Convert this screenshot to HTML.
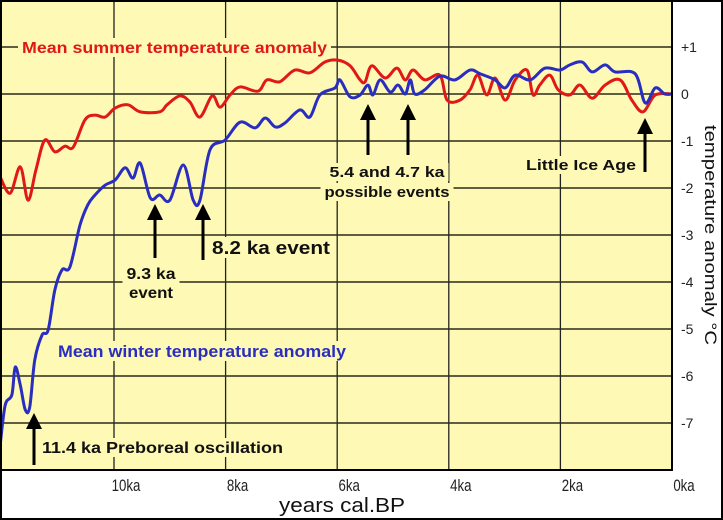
<!DOCTYPE html>
<html><head><meta charset="utf-8"><style>
html,body{margin:0;padding:0;background:#fff}
svg{display:block}
text{font-family:"Liberation Sans",Arial,sans-serif}
</style></head><body>
<svg id="chart" width="723" height="520" viewBox="0 0 723 520">
<rect x="0" y="0" width="723" height="520" fill="#fff"/>
<rect x="1" y="1" width="671" height="469" fill="#FEF9B4"/>
<g id="grid"></g>
<g id="labelsbg"></g>
<g id="series"></g>
<g id="annot"></g>
<g id="axes"></g>
<rect x="1" y="1" width="721" height="518" fill="none" stroke="#000" stroke-width="2"/>
</svg>
<script>
const xTicks = [10, 8, 6, 4, 2, 0];
const xTickLabels = ["10ka", "8ka", "6ka", "4ka", "2ka", "0ka"];
const yTicks = [1, 0, -1, -2, -3, -4, -5, -6, -7];
const yTickLabels = ["+1", "0", "-1", "-2", "-3", "-4", "-5", "-6", "-7"];
const summerAge = [12.04,11.86,11.68,11.54,11.40,11.24,11.06,10.88,10.73,10.52,10.34,10.16,9.98,9.75,9.53,9.18,9.05,8.82,8.64,8.46,8.24,8.10,7.92,7.74,7.42,7.26,7.03,6.76,6.49,6.22,5.99,5.77,5.59,5.50,5.38,5.14,4.93,4.78,4.64,4.43,4.16,4.03,3.80,3.62,3.48,3.32,3.17,2.99,2.81,2.60,2.49,2.37,2.19,2.04,1.83,1.65,1.43,1.20,0.93,0.72,0.52,0.30,0];
const summerT = [-1.77,-2.11,-1.55,-2.26,-1.62,-0.98,-1.23,-1.11,-1.13,-0.55,-0.45,-0.49,-0.30,-0.23,-0.38,-0.38,-0.23,-0.04,-0.17,-0.49,-0.04,-0.28,-0.02,0.15,0.06,0.30,0.26,0.51,0.45,0.68,0.72,0.60,0.30,0.26,0.60,0.34,0.55,0.30,0.51,0.30,0.40,-0.13,-0.13,0.09,0.40,-0.02,0.34,-0.13,0.30,0.51,-0.02,0.19,0.40,0.09,-0.02,0.19,-0.09,0.19,0.30,-0.13,-0.38,-0.02,0];
const winterAge = [12.04,11.95,11.83,11.77,11.68,11.59,11.51,11.42,11.29,11.18,11.06,10.93,10.79,10.61,10.47,10.34,10.16,9.98,9.80,9.66,9.53,9.35,9.18,9.00,8.76,8.58,8.46,8.28,8.01,7.74,7.47,7.29,7.11,6.94,6.67,6.49,6.31,6.04,5.95,5.77,5.59,5.45,5.36,5.23,5.05,4.91,4.78,4.69,4.61,4.43,4.16,3.89,3.62,3.44,3.17,2.99,2.81,2.54,2.28,2.01,1.83,1.61,1.43,1.20,1.02,0.66,0.48,0.30,0.13,0];
const winterT = [-7.47,-6.62,-6.40,-5.81,-6.19,-6.72,-6.66,-5.66,-5.13,-5.02,-4.17,-3.74,-3.68,-2.79,-2.36,-2.15,-1.94,-1.83,-1.57,-1.79,-1.47,-2.21,-2.15,-2.26,-1.51,-2.26,-2.26,-1.19,-0.98,-0.60,-0.72,-0.51,-0.70,-0.62,-0.34,-0.49,-0.02,0.13,0.30,-0.06,-0.02,0.19,-0.02,0.30,0.04,0.19,0,0.30,0,0.09,0.38,0.30,0.51,0.43,0.30,0.13,0.40,0.30,0.55,0.51,0.62,0.68,0.47,0.62,0.47,0.43,-0.19,0.13,0,0];

const NS = "http://www.w3.org/2000/svg";
const X = ka => 672 - 55.8 * ka;
const Y = t => 94 - 47 * t;
function mk(tag, attrs, parent, txt){
  const e = document.createElementNS(NS, tag);
  for (const k in attrs) e.setAttribute(k, attrs[k]);
  if (txt !== undefined) e.textContent = txt;
  parent.appendChild(e);
  return e;
}
const grid = document.getElementById('grid');
const axes = document.getElementById('axes');
const series = document.getElementById('series');
const annot = document.getElementById('annot');
const lbg = document.getElementById('labelsbg');

xTicks.forEach((v, i) => {
  if (v === 0) return;
  const l = mk('line', {x1:X(v), x2:X(v), y1:1, y2:470, stroke:'#222', 'stroke-width':1.3}, grid);
  
  
});
yTicks.forEach((v, i) => {
  const l = mk('line', {x1:1, x2:672, y1:Y(v), y2:Y(v), stroke:'#2a2a1a', 'stroke-width':1.6}, grid);
  
  
  const t = mk('text', {x:681, y:Y(v)+5, 'font-size':14, fill:'#222'}, axes, yTickLabels[i]);
  
  
});
xTicks.forEach((v, i) => {
  const cx = X(v) + 12;
  const t = mk('text', {x:cx, y:491, 'font-size':17, fill:'#222', 'text-anchor':'middle', transform:`translate(${cx} 0) scale(0.78 1) translate(${-cx} 0)`}, axes, xTickLabels[i]);
  
  
});
mk('line', {x1:672, x2:672, y1:1, y2:471, stroke:'#000', 'stroke-width':2}, axes);
mk('line', {x1:1, x2:672, y1:470, y2:470, stroke:'#000', 'stroke-width':2}, axes);
let t = mk('text', {x:342, y:512, 'font-size':20, fill:'#111', 'text-anchor':'middle', textLength:126, lengthAdjust:'spacingAndGlyphs'}, axes, 'years  cal.BP');


t = mk('text', {x:0, y:0, 'font-size':17, fill:'#111', 'text-anchor':'middle', transform:'translate(705 235) rotate(90)', textLength:220, lengthAdjust:'spacingAndGlyphs'}, axes, 'temperature anomaly °C');



function smoothPath(xs, ys){
  const p = xs.map((a,i)=>[X(a), Y(ys[i])]);
  let d = `M${p[0][0]},${p[0][1]}`;
  for (let i=0;i<p.length-1;i++){
    const p0=p[Math.max(0,i-1)], p1=p[i], p2=p[i+1], p3=p[Math.min(p.length-1,i+2)];
    const c1=[p1[0]+(p2[0]-p0[0])/6, p1[1]+(p2[1]-p0[1])/6];
    const c2=[p2[0]-(p3[0]-p1[0])/6, p2[1]-(p3[1]-p1[1])/6];
    d += ` C${c1[0]},${c1[1]} ${c2[0]},${c2[1]} ${p2[0]},${p2[1]}`;
  }
  return d;
}
let s = mk('path', {d:smoothPath(summerAge, summerT), fill:'none', stroke:'#E01818', 'stroke-width':3, 'stroke-linejoin':'round'}, series);


s = mk('path', {d:smoothPath(winterAge, winterT), fill:'none', stroke:'#2A2EC0', 'stroke-width':3, 'stroke-linejoin':'round'}, series);



function label(x, y, w, txt, size, color, name, anchor){
  const x0 = anchor === 'end' ? x - w : (anchor === 'middle' ? x - w/2 : x);
  mk('rect', {x:x0-4, y:y-size+1, width:w+8, height:size+3, fill:'#FEF9B4'}, lbg);
  const e = mk('text', {x:x, y:y, 'font-size':size, 'font-weight':'bold', fill:color, 'text-anchor':anchor||'start', textLength:w, lengthAdjust:'spacingAndGlyphs'}, annot, txt);
  
  
}
function arrow(x, y1, y2, name){
  const g = mk('g', {}, annot);
  
  
  mk('line', {x1:x, x2:x, y1:y1+12, y2:y2, stroke:'#000', 'stroke-width':3}, g);
  mk('polygon', {points:`${x-8},${y1+16} ${x+8},${y1+16} ${x},${y1}`, fill:'#000'}, g);
}
label(22, 53, 305, 'Mean summer temperature anomaly', 16, '#E01818', 'summer-legend-label');
label(58, 357, 288, 'Mean winter temperature anomaly', 17, '#2A2EC0', 'winter-legend-label');
label(212, 254, 118, '8.2 ka event', 18, '#111', 'label-8-2-ka-event');
label(151, 279, 49, '9.3 ka', 16, '#111', 'label-9-3-ka', 'middle');
label(151, 298, 44, 'event', 16, '#111', 'label-9-3-event', 'middle');
label(387, 177, 115, '5.4 and 4.7 ka', 15, '#111', 'label-5-4-4-7-ka', 'middle');
label(387, 197, 125, 'possible events', 15, '#111', 'label-possible-events', 'middle');
label(636, 170, 110, 'Little Ice Age', 15, '#111', 'label-little-ice-age', 'end');
label(42, 453, 241, '11.4 ka Preboreal oscillation', 16, '#111', 'label-preboreal-oscillation');
arrow(155, 204, 258, 'arrow-9-3-ka');
arrow(203, 204, 260, 'arrow-8-2-ka');
arrow(368, 104, 155, 'arrow-5-4-ka');
arrow(408, 104, 155, 'arrow-4-7-ka');
arrow(645, 118, 172, 'arrow-little-ice-age');
arrow(34, 413, 465, 'arrow-11-4-ka');
</script>
</body></html>
